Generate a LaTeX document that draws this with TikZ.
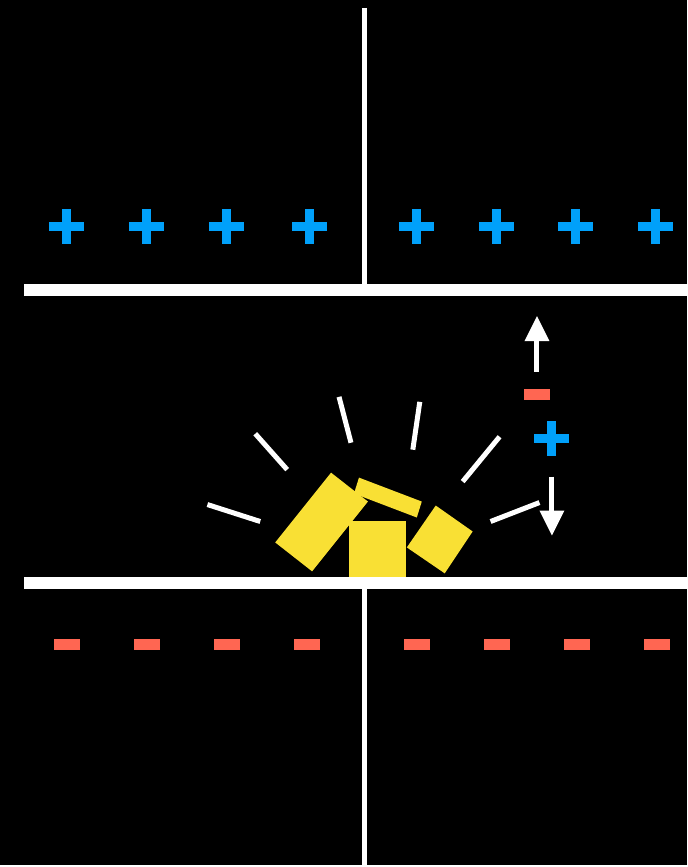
\documentclass[tikz,border=0pt]{standalone}
\usepackage{tikz}
\definecolor{chargeblue}{RGB}{0,160,250}
\definecolor{chargered}{RGB}{255,102,82}
\definecolor{grainyellow}{RGB}{249,224,52}
% charge marks, centred on (x,y)
\def\plussign(#1,#2){\fill[chargeblue] ({#1-17.5},{#2-4.5}) rectangle ({#1+17.5},{#2+4.5});
	\fill[chargeblue] ({#1-4.5},{#2-17.5}) rectangle ({#1+4.5},{#2+17.5});}
\def\minussign(#1,#2){\fill[chargered] ({#1-13},{#2-5.5}) rectangle ({#1+13},{#2+5.5});}

\begin{document}
\begin{tikzpicture}[x=1pt,y=-1pt]
		%%%%% START %%%%%
		\fill[black] (0, 0) rectangle (689, 867);
		
		% plates and wires
		\draw[white, line width=5] (365.5, 8) -- (365.5, 291);
		\draw[white, line width=5] (365.5, 584) -- (365.5, 867);
		\fill[white] (24, 285) rectangle (689, 297);
		\fill[white] (24, 578.5) rectangle (689, 590.5);
		
		% charges on the plates
		\plussign(67, 227.5)
		\plussign(147, 227.5)
		\plussign(227, 227.5)
		\plussign(310.5, 227.5)
		\plussign(417.5, 227.5)
		\plussign(497.5, 227.5)
		\plussign(577.5, 227.5)
		\plussign(657.5, 227.5)
		
		\minussign(67.5, 646.5)
		\minussign(147.5, 646.5)
		\minussign(227.5, 646.5)
		\minussign(307.5, 646.5)
		\minussign(418.5, 646.5)
		\minussign(498.5, 646.5)
		\minussign(578.5, 646.5)
		\minussign(658.5, 646.5)
		
		% split pair between the plates
		\draw[white, line width=5] (538.5, 373) -- (538.5, 340);
		\fill[white] (526, 342) -- (538.5, 317) -- (551, 342) -- cycle;
		\minussign(539, 395.5)
		\plussign(553.5, 440)
		\draw[white, line width=5] (553.5, 478) -- (553.5, 514);
		\fill[white] (541, 512) -- (553.5, 537) -- (566, 512) -- cycle;
		
		% tumbling blocks
		\fill[grainyellow] (360, 479) -- (423, 503) -- (418, 519) -- (355, 495) -- cycle;
		\fill[grainyellow] (332, 474) -- (276, 544) -- (313, 573) -- (369, 503) -- cycle;
		\fill[grainyellow] (350, 522) rectangle (407, 579);
		\fill[grainyellow] (437, 507) -- (474, 533) -- (446, 575) -- (408, 549) -- cycle;
		
		% burst lines
		\draw[white, line width=5] (208, 506) -- (261, 523);
		\draw[white, line width=5] (256, 435) -- (288, 471);
		\draw[white, line width=5] (340, 398) -- (352, 444);
		\draw[white, line width=5] (421, 403) -- (414, 451);
		\draw[white, line width=5] (501, 438) -- (464, 483);
		\draw[white, line width=5] (541, 504) -- (492, 523);
		%%%%% END %%%%%
	\end{tikzpicture}
\end{document}
